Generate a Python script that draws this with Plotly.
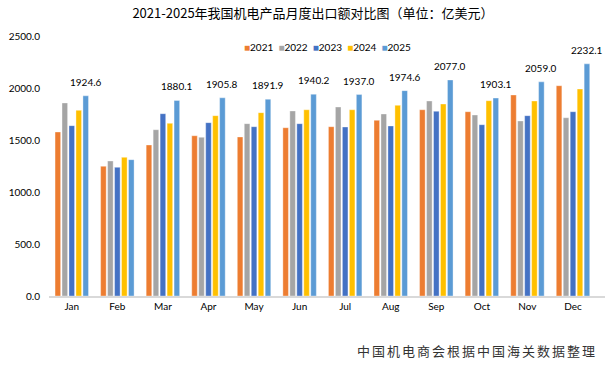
import plotly.graph_objects as go

months = ["Jan", "Feb", "Mar", "Apr", "May", "Jun", "Jul", "Aug", "Sep", "Oct", "Nov", "Dec"]
years = ["2021", "2022", "2023", "2024", "2025"]
colors = ["#ED7D31", "#A5A5A5", "#4472C4", "#FFC000", "#5B9BD5"]

v2021 = [1577, 1247, 1452, 1541, 1529, 1618, 1628, 1689, 1791, 1772, 1933, 2022]
v2022 = [1856, 1298, 1599, 1526, 1657, 1779, 1817, 1750, 1875, 1740, 1683, 1714]
v2023 = [1638, 1237, 1753, 1667, 1628, 1657, 1625, 1635, 1776, 1647, 1734, 1772]
v2024 = [1785, 1333, 1660, 1734, 1763, 1791, 1791, 1833, 1846, 1878, 1875, 1990]
v2025 = [1924.6, 1311.0, 1880.1, 1905.8, 1891.9, 1940.2, 1937.0, 1974.6, 2077.0, 1903.1, 2059.0, 2232.1]

series = [v2021, v2022, v2023, v2024, v2025]
label_skip = ["Feb"]

title_text = "2021-2025年我国机电产品月度出口额对比图（单位：亿美元）"
source_text = "中国机电商会根据中国海关数据整理"

FONT = "Lato, 'Liberation Sans', sans-serif"
CJK = "'Noto Sans CJK SC', sans-serif"

fig = go.Figure()
for name, vals, col in zip(years, series, colors):
    fig.add_trace(go.Bar(
        x=months, y=vals, name=name,
        marker=dict(color=col, line=dict(color="rgba(255,255,255,0.7)", width=0.5)),
    ))

annotations = []
for m, v in zip(months, v2025):
    if m in label_skip:
        continue
    annotations.append(dict(
        x=m, y=v, xref="x", yref="y", text=f"{v:.1f}", showarrow=False,
        xshift=14, yshift=14, yanchor="middle",
        font=dict(size=10, color="#000000", family=FONT),
    ))

legend_parts = [f'<span style="color:{c}">■</span>{y}' for y, c in zip(years, colors)]
annotations.append(dict(
    x=0.5, y=0.958, xref="paper", yref="paper", xanchor="center", yanchor="middle",
    text="\u00a0\u00a0".join(legend_parts), showarrow=False,
    font=dict(size=10, color="#000000", family=FONT),
))

annotations.append(dict(
    x=0.99, y=-0.208, xref="paper", yref="paper", xanchor="right", yanchor="middle",
    text=f'<span style="letter-spacing:2px">{source_text}</span>', showarrow=False,
    font=dict(size=13, color="#333333", family=CJK),
))

fig.update_layout(
    width=606, height=367, autosize=False,
    margin=dict(l=49, r=1, t=36, b=71),
    paper_bgcolor="white", plot_bgcolor="white",
    barmode="group", bargap=0.235, bargroupgap=0.2,
    showlegend=False,
    title=dict(text=title_text, x=313 / 606, xanchor="center", y=1 - 13.5 / 367, yanchor="middle",
               font=dict(size=13, color="#000000", family=CJK)),
    xaxis=dict(showline=True, linecolor="#D9D9D9", linewidth=1.5, ticks="", showgrid=False,
               tickfont=dict(size=10, color="#000000", family=FONT)),
    yaxis=dict(range=[0, 2500], dtick=500, tickformat=".1f", showgrid=False, showline=False,
               ticks="", zeroline=False, ticklabelstandoff=8,
               tickfont=dict(size=10, color="#000000", family=FONT)),
    annotations=annotations,
)

fig.write_html(
    "out.html",
    config={"displayModeBar": False},
    post_script="document.body.style.margin='0';document.body.style.overflow='hidden';",
)
